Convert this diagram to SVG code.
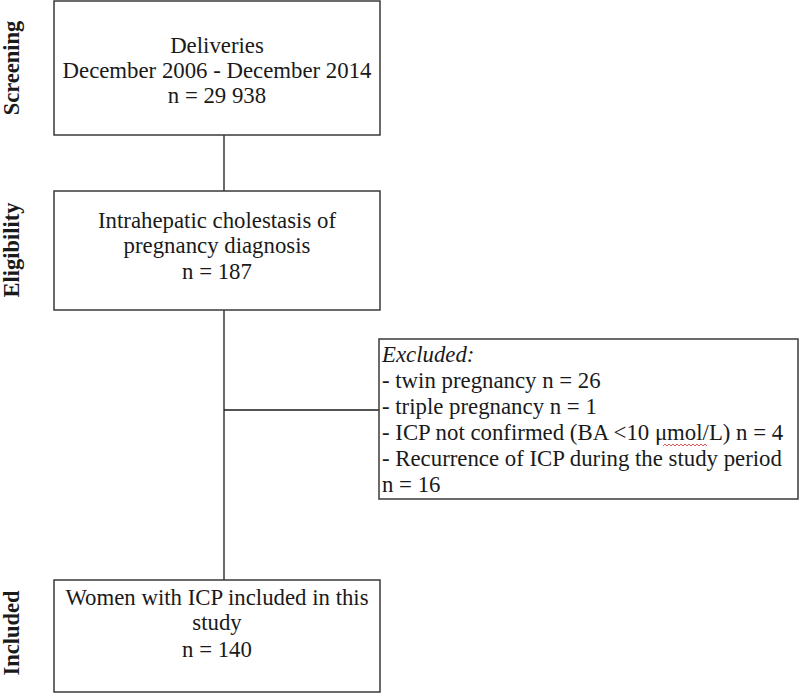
<svg xmlns="http://www.w3.org/2000/svg" width="800" height="693" viewBox="0 0 800 693">
<style>
.box{fill:#fff;stroke:#3a3a3a;stroke-width:1.5}
.t{font-family:"Liberation Serif","Times New Roman",serif;font-size:22.8px;fill:#1a1a1a}
.c{text-anchor:middle}
.side{font-family:"Liberation Serif","Times New Roman",serif;font-size:22.5px;font-weight:bold;fill:#1a1a1a;text-anchor:middle}
.ln{stroke:#1a1a1a;stroke-width:1.3;fill:none}
</style>
<rect width="800" height="693" fill="#fff"/>
<g id="connectors">
<line class="ln" x1="224" y1="135" x2="224" y2="191"/>
<line class="ln" x1="224" y1="310" x2="224" y2="580"/>
<line class="ln" x1="224" y1="410" x2="379" y2="410"/>
</g>
<g id="labels">
<text class="side" transform="translate(19,68) rotate(-90)">Screening</text>
<text class="side" transform="translate(19,250) rotate(-90)">Eligibility</text>
<text class="side" transform="translate(19,633) rotate(-90)">Included</text>
</g>
<g id="screening">
<rect class="box" x="54" y="1" width="326" height="134"/>
<text class="t c" x="217" y="53">Deliveries</text>
<text class="t c" x="217" y="78">December 2006 - December 2014</text>
<text class="t c" x="217" y="103">n = 29 938</text>
</g>
<g id="eligibility">
<rect class="box" x="54" y="191" width="326" height="119"/>
<text class="t c" x="217" y="228">Intrahepatic cholestasis of</text>
<text class="t c" x="217" y="253">pregnancy diagnosis</text>
<text class="t c" x="217" y="279">n = 187</text>
</g>
<g id="excluded">
<rect class="box" x="379" y="339" width="419" height="160"/>
<text class="t" x="382" y="362" font-style="italic">Excluded:</text>
<text class="t" x="382" y="388">- twin pregnancy n = 26</text>
<text class="t" x="382" y="414">- triple pregnancy n = 1</text>
<text class="t" x="382" y="440">- ICP not confirmed (BA &lt;10 μmol/L) n = 4</text>
<text class="t" x="382" y="466">- Recurrence of ICP during the study period</text>
<text class="t" x="382" y="492">n = 16</text>
<path d="M663 446 l2 -2 l2 2 l2 -2 l2 2 l2 -2 l2 2 l2 -2 l2 2 l2 -2 l2 2 l2 -2 l2 2 l2 -2 l2 2 l2 -2 l2 2 l2 -2 l2 2 l2 -2 l2 2 l2 -2 l2 2" fill="none" stroke="#d03030" stroke-width="0.8"/>
</g>
<g id="included">
<rect class="box" x="54" y="580" width="326" height="112"/>
<text class="t c" x="217" y="605">Women with ICP included in this</text>
<text class="t c" x="217" y="630">study</text>
<text class="t c" x="217" y="657">n = 140</text>
</g>
</svg>
